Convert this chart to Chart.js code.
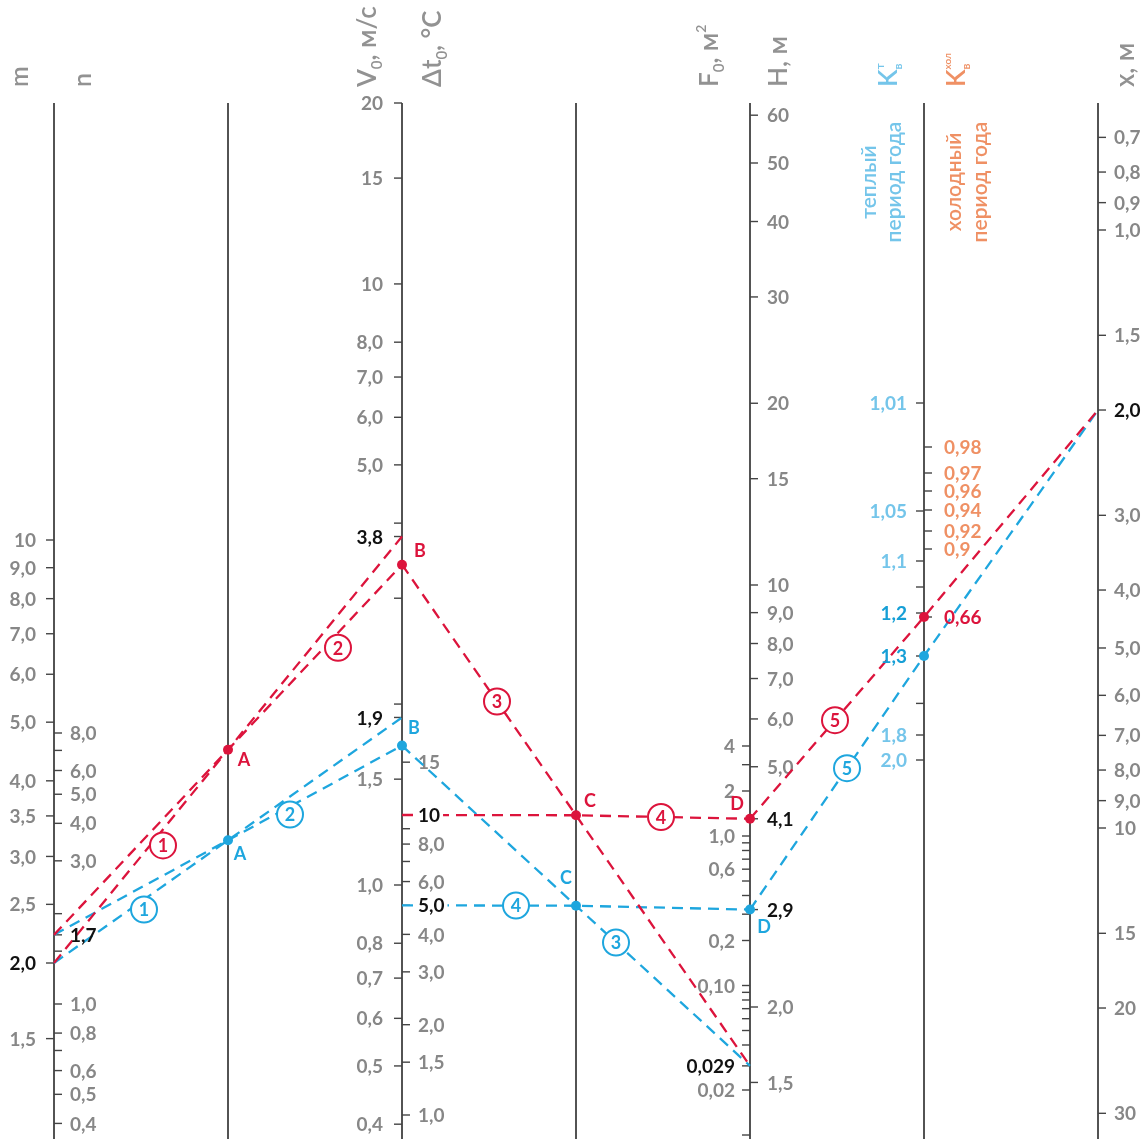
<!DOCTYPE html>
<html lang="ru">
<head>
<meta charset="utf-8">
<title>Номограмма</title>
<style>
  html, body { margin: 0; padding: 0; background: #fff; }
  canvas { display: block; }
</style>
</head>
<body>
<canvas id="nomogram" width="1146" height="1139"></canvas>
<script src="https://cdn.jsdelivr.net/npm/chart.js@4.4.1/dist/chart.umd.min.js"></script>
<script>
// ---- tick values and labels of every scale ----
const mTicks  = [10, 9, 8, 7, 6, 5, 4, 3.5, 3, 2.5, 2, 1.5];
const mLabels = ['10', '9,0', '8,0', '7,0', '6,0', '5,0', '4,0', '3,5', '3,0', '2,5', '2,0', '1,5'];
const nTicks  = [8, 7, 6, 5, 4, 3, 2, 1.7, 1.5, 1, 0.8, 0.7, 0.6, 0.5, 0.4];
const nLabels = ['8,0', '', '6,0', '5,0', '4,0', '3,0', '', '1,7', '', '1,0', '0,8', '', '0,6', '0,5', '0,4'];

const v0Ticks  = [20, 15, 10, 8, 7, 6, 5, 4, 3.8, 3, 2, 1.9, 1.5, 1, 0.8, 0.7, 0.6, 0.5, 0.4];
const v0Labels = ['20', '15', '10', '8,0', '7,0', '6,0', '5,0', '', '3,8', '', '', '1,9', '1,5', '1,0', '0,8', '0,7', '0,6', '0,5', '0,4'];
const dtTicks  = [15, 10, 9, 8, 7, 6, 5, 4, 3, 2, 1.5, 1];
const dtLabels = ['15', '10', '', '8,0', '', '6,0', '5,0', '4,0', '3,0', '2,0', '1,5', '1,0'];

const f0Ticks  = [4, 3, 2, 1, 0.9, 0.8, 0.7, 0.6, 0.5, 0.4, 0.3, 0.2, 0.1, 0.09, 0.08, 0.07, 0.06, 0.05, 0.04, 0.029, 0.02, 0.01];
const f0Labels = ['4', '', '2', '1,0', '', '', '', '0,6', '', '', '', '0,2', '0,10', '', '', '', '', '', '', '0,029', '0,02', ''];
const hTicks  = [60, 50, 40, 30, 20, 15, 10, 9, 8, 7, 6, 5, 4.1, 2.9, 2, 1.5];
const hLabels = ['60', '50', '40', '30', '20', '15', '10', '9,0', '8,0', '7,0', '6,0', '5,0', '4,1', '2,9', '2,0', '1,5'];

const kwTicks  = [1.01, 1.05, 1.1, 1.15, 1.2, 1.3, 1.6, 1.8, 2.0];
const kwLabels = ['1,01', '1,05', '1,1', '', '1,2', '1,3', '', '1,8', '2,0'];
const kcTicks  = [0.98, 0.97, 0.96, 0.94, 0.92, 0.9, 0.66];
const kcLabels = ['0,98', '0,97', '0,96', '0,94', '0,92', '0,9', '0,66'];

const xTicks  = [0.7, 0.8, 0.9, 1, 1.5, 2, 3, 4, 5, 6, 7, 8, 9, 10, 15, 20, 30];
const xLabels = ['0,7', '0,8', '0,9', '1,0', '1,5', '2,0', '3,0', '4,0', '5,0', '6,0', '7,0', '8,0', '9,0', '10', '15', '20', '30'];

// ---- the two worked examples: [red = холодный период, blue = теплый период] ----
const mValue   = 2.0;
const nValue   = 1.7;
const v0Values = [3.8, 1.9];
const dtValues = [10, 5.0];
const f0Value  = 0.029;
const hValues  = [4.1, 2.9];
const kcValue  = 0.66;   // red, K хол
const kwValue  = 1.3;    // blue, K т
const xValue   = 2.0;

// ---- layout ----
const W = 1146, H = 1139;
const AXIS_X = [54, 228, 402, 576, 750, 924, 1098];
const AXIS_TOP = 103;
const RED = '#dc143c';
const BLUE = '#1ea6de';
const COLORS = [RED, BLUE];
const GRAY = '#878787';
const TITLE_GRAY = '#929292';
const LIGHT_BLUE = '#74c5ea';
const DARK_BLUE = '#169fd6';
const ORANGE = '#ef9064';
const FONT = 'Lato, "Open Sans", sans-serif';

// nomogram scale calibrations (value -> vertical position on the sheet)
const logScale = (v1, y1, v2, y2) => v =>
  y1 + (Math.log10(v) - Math.log10(v1)) * (y2 - y1) / (Math.log10(v2) - Math.log10(v1));
const tableScale = pairs => v => {
  const p = pairs.slice().sort((a, b) => a[0] - b[0]);
  for (let i = 0; i < p.length - 1; i++) {
    if (v >= p[i][0] && v <= p[i + 1][0]) {
      const t = (v - p[i][0]) / (p[i + 1][0] - p[i][0]);
      return p[i][1] + t * (p[i + 1][1] - p[i][1]);
    }
  }
  return v < p[0][0] ? p[0][1] : p[p.length - 1][1];
};

const S = {
  m:  { axis: 0, side: -1, gap: 18, map: logScale(10, 540, 2, 963),   ticks: mTicks,  labels: mLabels,  strong: [mValue] },
  n:  { axis: 0, side: 1,  gap: 16, map: logScale(8, 733, 1, 1004),   ticks: nTicks,  labels: nLabels,  strong: [nValue] },
  V0: { axis: 2, side: -1, gap: 19, map: logScale(20, 103, 1, 885),   ticks: v0Ticks, labels: v0Labels, strong: v0Values },
  dt: { axis: 2, side: 1,  gap: 16, map: logScale(10, 815, 1, 1115),  ticks: dtTicks, labels: dtLabels, strong: dtValues, bg: true },
  F0: { axis: 4, side: -1, gap: 15, map: logScale(1, 836, 0.02, 1090), ticks: f0Ticks, labels: f0Labels, strong: [f0Value] },
  H:  { axis: 4, side: 1,  gap: 17, map: logScale(10, 585, 2, 1007),  ticks: hTicks,  labels: hLabels,  strong: hValues },
  Kw: { axis: 5, side: -1, gap: 17, color: LIGHT_BLUE, strongColor: DARK_BLUE,
        map: tableScale([[1.01, 403], [1.05, 511], [1.1, 561], [1.2, 613], [1.3, 656], [1.8, 735], [2.0, 760]]),
        ticks: kwTicks, labels: kwLabels, strong: [1.2, kwValue] },
  Kc: { axis: 5, side: 1,  gap: 20, color: ORANGE, strongColor: RED,
        map: tableScale([[0.66, 617], [0.9, 549], [0.92, 531], [0.94, 510], [0.96, 491], [0.97, 473], [0.98, 447]]),
        ticks: kcTicks, labels: kcLabels, strong: [kcValue] },
  x:  { axis: 6, side: 1,  gap: 16, map: logScale(1, 230, 10, 828),   ticks: xTicks,  labels: xLabels,  strong: [xValue] }
};

// key lines of the nomogram for one example
function solve(ci) {
  const ym = S.m.map(mValue);
  const yn = S.n.map(nValue);
  const yv = S.V0.map(v0Values[ci]);
  const yA = (ym + yv) / 2;          // m -> V0 crosses the blank axis at A
  const yB = 2 * yA - yn;            // n -> A extended gives B
  const yF = S.F0.map(f0Value);
  const yC = (yB + yF) / 2;          // B -> F0 crosses at C
  const yT = S.dt.map(dtValues[ci]);
  const yD = S.H.map(hValues[ci]);
  const yK = ci === 0 ? S.Kc.map(kcValue) : S.Kw.map(kwValue);
  const yX = S.x.map(xValue);
  return {
    paths: [
      [[0, ym], [2, yv]],
      [[0, yn], [1, yA], [2, yB]],
      [[2, yB], [3, yC], [4, yF]],
      [[2, yT], [3, yC], [4, yD]],
      [[4, yD], [5, yK], [6, yX]]
    ],
    dots: [[1, yA], [2, yB], [3, yC], [4, yD], [5, yK]]
  };
}
const examples = [solve(0), solve(1)];

// circled step numbers: which line, where along it, small shift off the line
const steps = [
  { ci: 0, path: 0, x: 163, dy: 16, t: '1' },
  { ci: 0, path: 1, x: 338, dy: 15, t: '2' },
  { ci: 0, path: 2, x: 497, dy: 0,  t: '3' },
  { ci: 0, path: 3, x: 661, dy: 0,  t: '4' },
  { ci: 0, path: 4, x: 835, dy: 0,  t: '5' },
  { ci: 1, path: 0, x: 144, dy: 10, t: '1' },
  { ci: 1, path: 1, x: 290, dy: 8,  t: '2' },
  { ci: 1, path: 2, x: 616, dy: 0,  t: '3' },
  { ci: 1, path: 3, x: 516, dy: 0,  t: '4' },
  { ci: 1, path: 4, x: 847, dy: 0,  t: '5' }
];
// letters next to the points A, B, C, D
const letterOffsets = [
  [[16, 10], [18, -13], [14, -14], [-13, -15]],
  [[12, 14], [12, -17], [-10, -28], [14, 18]]
];

// ---- datasets ----
const datasets = [];
examples.forEach((g, ci) => {
  g.paths.forEach(p => datasets.push({
    data: p.map(([a, y]) => ({ x: AXIS_X[a], y })),
    showLine: true,
    borderColor: COLORS[ci],
    borderWidth: 2.3,
    borderDash: [11, 7],
    pointRadius: 0,
    fill: false
  }));
  datasets.push({
    data: g.dots.map(([a, y]) => ({ x: AXIS_X[a], y })),
    showLine: false,
    pointRadius: 5,
    pointBackgroundColor: COLORS[ci],
    pointBorderWidth: 0
  });
});

// ---- drawing helpers ----
function pathYAt(path, x) {
  for (let i = 0; i < path.length - 1; i++) {
    const x1 = AXIS_X[path[i][0]], x2 = AXIS_X[path[i + 1][0]];
    if (x >= x1 && x <= x2) {
      return path[i][1] + (x - x1) / (x2 - x1) * (path[i + 1][1] - path[i][1]);
    }
  }
  return path[0][1];
}

function rotatedParts(ctx, parts, bx, by, color) {
  ctx.save();
  ctx.translate(bx, by);
  ctx.rotate(-Math.PI / 2);
  ctx.fillStyle = color;
  ctx.textAlign = 'left';
  ctx.textBaseline = 'alphabetic';
  let x = 0;
  parts.forEach(p => {
    ctx.font = `${p.w || '600'} ${p.s}px ${FONT}`;
    ctx.fillText(p.t, x, p.dy || 0);
    if (p.adv !== false) x += ctx.measureText(p.t).width;
  });
  ctx.restore();
}

const titles = [
  { x: 28,   color: TITLE_GRAY, parts: [{ t: 'm', s: 25 }] },
  { x: 91,   color: TITLE_GRAY, parts: [{ t: 'n', s: 25 }] },
  { x: 376,  color: TITLE_GRAY, parts: [{ t: 'V', s: 26 }, { t: '0', s: 15, dy: 6 }, { t: ', м/с', s: 26 }] },
  { x: 441,  color: TITLE_GRAY, parts: [{ t: 'Δt', s: 26 }, { t: '0', s: 15, dy: 6 }, { t: ', °C', s: 26 }] },
  { x: 718,  color: TITLE_GRAY, parts: [{ t: 'F', s: 26 }, { t: '0', s: 15, dy: 6 }, { t: ', м', s: 26 }, { t: '2', s: 14, dy: -12 }] },
  { x: 787,  color: TITLE_GRAY, parts: [{ t: 'H, м', s: 26 }] },
  { x: 897,  color: LIGHT_BLUE, parts: [{ t: 'K', s: 26 }, { t: 'т', s: 12, dy: -13, adv: false }, { t: 'в', s: 12, dy: 5 }] },
  { x: 965,  color: ORANGE,     parts: [{ t: 'K', s: 26 }, { t: 'хол', s: 10, dy: -14, adv: false }, { t: 'в', s: 12, dy: 5 }] },
  { x: 1134, color: TITLE_GRAY, parts: [{ t: 'x, м', s: 26 }] }
];
const notes = [
  { t: 'теплый',      x: 876, color: LIGHT_BLUE },
  { t: 'период года', x: 901, color: LIGHT_BLUE },
  { t: 'холодный',    x: 961, color: ORANGE },
  { t: 'период года', x: 987, color: ORANGE }
];

function drawAxes(chart) {
  const ctx = chart.ctx;
  const px = v => chart.scales.x.getPixelForValue(v);
  const py = v => chart.scales.y.getPixelForValue(v);
  ctx.save();
  ctx.strokeStyle = '#1a1a1a';
  ctx.lineWidth = 1.5;
  AXIS_X.forEach(ax => {
    ctx.beginPath();
    ctx.moveTo(px(ax), py(AXIS_TOP));
    ctx.lineTo(px(ax), py(H));
    ctx.stroke();
  });

  Object.values(S).forEach(sc => {
    const ax = px(AXIS_X[sc.axis]);
    sc.ticks.forEach((v, i) => {
      const y = py(sc.map(v));
      ctx.strokeStyle = '#444';
      ctx.lineWidth = 1.4;
      ctx.beginPath();
      ctx.moveTo(ax, y);
      ctx.lineTo(ax + sc.side * 8, y);
      ctx.stroke();
      const label = sc.labels[i];
      if (!label || sc.strong.includes(v)) return;
      ctx.font = `bold 19px ${FONT}`;
      ctx.fillStyle = sc.color || GRAY;
      ctx.textBaseline = 'middle';
      ctx.textAlign = sc.side < 0 ? 'right' : 'left';
      ctx.fillText(label, ax + sc.side * sc.gap, y + 1);
    });
  });
  ctx.restore();
}

function drawStrongLabels(chart) {
  const ctx = chart.ctx;
  const px = v => chart.scales.x.getPixelForValue(v);
  const py = v => chart.scales.y.getPixelForValue(v);
  ctx.save();
  Object.values(S).forEach(sc => {
    const ax = px(AXIS_X[sc.axis]);
    sc.ticks.forEach((v, i) => {
      const label = sc.labels[i];
      if (!label || !sc.strong.includes(v)) return;
      const y = py(sc.map(v));
      const x = ax + sc.side * sc.gap;
      ctx.font = `bold 19px ${FONT}`;
      ctx.textBaseline = 'middle';
      ctx.textAlign = sc.side < 0 ? 'right' : 'left';
      if (sc.bg) {
        const w = ctx.measureText(label).width;
        ctx.fillStyle = '#fff';
        ctx.fillRect(sc.side < 0 ? x - w - 3 : x - 3, y - 10, w + 6, 21);
      }
      ctx.fillStyle = sc.strongColor || '#111';
      ctx.fillText(label, x, y + 1);
    });
  });
  ctx.restore();
}

function drawMarks(chart) {
  const ctx = chart.ctx;
  const px = v => chart.scales.x.getPixelForValue(v);
  const py = v => chart.scales.y.getPixelForValue(v);
  ctx.save();
  // circled step numbers
  steps.forEach(s => {
    const path = examples[s.ci].paths[s.path];
    const cx = px(s.x), cy = py(pathYAt(path, s.x) + s.dy);
    ctx.beginPath();
    ctx.arc(cx, cy, 13, 0, Math.PI * 2);
    ctx.fillStyle = '#fff';
    ctx.fill();
    ctx.lineWidth = 2;
    ctx.strokeStyle = COLORS[s.ci];
    ctx.stroke();
    ctx.fillStyle = COLORS[s.ci];
    ctx.font = `bold 18px ${FONT}`;
    ctx.textAlign = 'center';
    ctx.textBaseline = 'middle';
    ctx.fillText(s.t, cx, cy + 1);
  });
  // point letters
  examples.forEach((g, ci) => {
    ['A', 'B', 'C', 'D'].forEach((L, i) => {
      const [a, y] = g.dots[i];
      const [dx, dy] = letterOffsets[ci][i];
      ctx.fillStyle = COLORS[ci];
      ctx.font = `bold 18px ${FONT}`;
      ctx.textAlign = 'center';
      ctx.textBaseline = 'middle';
      ctx.fillText(L, px(AXIS_X[a]) + dx, py(y) + dy);
    });
  });
  ctx.restore();
}

function drawTitles(chart) {
  const ctx = chart.ctx;
  titles.forEach(t => rotatedParts(ctx, t.parts, t.x, 87, t.color));
  ctx.save();
  notes.forEach(n => {
    ctx.font = `600 21px ${FONT}`;
    const w = ctx.measureText(n.t).width;
    rotatedParts(ctx, [{ t: n.t, s: 21, w: '600' }], n.x, 182 + w / 2, n.color);
  });
  ctx.restore();
}

const nomogramPlugin = {
  id: 'nomogram',
  beforeDatasetsDraw(chart) { drawAxes(chart); },
  afterDatasetsDraw(chart) {
    drawMarks(chart);
    drawStrongLabels(chart);
    drawTitles(chart);
  }
};

new Chart(document.getElementById('nomogram'), {
  type: 'scatter',
  data: { datasets },
  options: {
    responsive: false,
    animation: false,
    events: [],
    layout: { padding: 0, autoPadding: false },
    plugins: { legend: { display: false }, tooltip: { enabled: false } },
    scales: {
      x: { type: 'linear', min: 0, max: W, display: false },
      y: { type: 'linear', min: 0, max: H, reverse: true, display: false }
    }
  },
  plugins: [nomogramPlugin]
});
</script>
</body>
</html>
